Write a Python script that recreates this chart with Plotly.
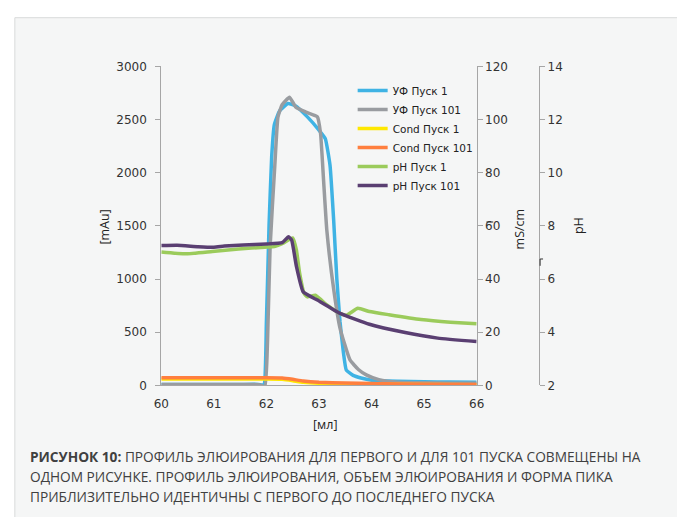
import plotly.graph_objects as go

W, H = 677, 517

# ---- data ----
uv1_x = [60, 60.5, 61, 61.5, 61.85, 61.95, 62.0, 62.05, 62.1, 62.15, 62.25, 62.41, 62.55, 62.78, 63.0, 63.12, 63.21, 63.28, 63.34, 63.4, 63.46, 63.52, 63.65, 63.8, 64.0, 64.5, 65, 65.5, 66]
uv1_y = [10, 10, 10, 10, 10, 5, 600, 1500, 2150, 2450, 2580, 2650, 2630, 2525, 2400, 2320, 2070, 1550, 1000, 600, 330, 145, 95, 70, 50, 40, 35, 32, 30]

uv101_x = [60, 60.5, 61, 61.5, 61.85, 61.97, 62.02, 62.07, 62.16, 62.22, 62.3, 62.44, 62.56, 62.75, 62.97, 63.03, 63.09, 63.15, 63.28, 63.4, 63.59, 63.75, 63.9, 64.14, 64.5, 65, 65.5, 66]
uv101_y = [10, 10, 10, 10, 8, -10, 400, 1300, 2070, 2525, 2640, 2710, 2615, 2570, 2525, 2370, 1910, 1455, 905, 540, 240, 150, 100, 55, 30, 25, 22, 20]

cond_x = [60, 61, 62, 62.3, 62.5, 62.7, 63.0, 63.5, 64, 65, 66]
cond1_y = [2.4, 2.4, 2.4, 2.3, 1.8, 1.2, 0.8, 0.6, 0.5, 0.35, 0.3]
cond101_y = [2.9, 2.9, 2.9, 2.8, 2.3, 1.7, 1.2, 0.9, 0.7, 0.5, 0.4]

ph1_x = [60.0, 60.46, 60.97, 61.47, 61.97, 62.15, 62.32, 62.5, 62.57, 62.63, 62.72, 62.78, 62.93, 63.15, 63.39, 63.52, 63.74, 63.96, 64.33, 64.94, 65.5, 66]
ph1_y = [7.02, 6.95, 7.04, 7.13, 7.2, 7.22, 7.35, 7.55, 7.1, 6.25, 5.45, 5.33, 5.39, 5.03, 4.72, 4.64, 4.9, 4.78, 4.66, 4.48, 4.38, 4.32]

ph101_x = [60.0, 60.3, 60.7, 61.0, 61.2, 61.56, 62.0, 62.3, 62.42, 62.48, 62.57, 62.7, 62.97, 63.39, 63.96, 64.64, 65.26, 66]
ph101_y = [7.26, 7.27, 7.22, 7.2, 7.24, 7.28, 7.32, 7.37, 7.59, 7.47, 6.49, 5.52, 5.21, 4.72, 4.3, 3.99, 3.78, 3.65]

x_ticks = [60, 61, 62, 63, 64, 65, 66]

names = ["УФ Пуск 1", "УФ Пуск 101", "Cond Пуск 1", "Cond Пуск 101", "pH Пуск 1", "pH Пуск 101"]
colors = ["#3FB3E4", "#999CA0", "#FFE800", "#FF7F3F", "#9BCB5B", "#5A3F72"]

caption_lines = [
    "<b>РИСУНОК 10:</b> ПРОФИЛЬ ЭЛЮИРОВАНИЯ ДЛЯ ПЕРВОГО И ДЛЯ 101 ПУСКА СОВМЕЩЕНЫ НА",
    "ОДНОМ РИСУНКЕ. ПРОФИЛЬ ЭЛЮИРОВАНИЯ, ОБЪЕМ ЭЛЮИРОВАНИЯ И ФОРМА ПИКА",
    "ПРИБЛИЗИТЕЛЬНО ИДЕНТИЧНЫ С ПЕРВОГО ДО ПОСЛЕДНЕГО ПУСКА",
]

# ---- helpers: page pixel -> paper fraction ----
def px(x):
    return x / W

def py(y):
    return 1 - y / H

fig = go.Figure()
series = [
    (uv1_x, uv1_y, "y"),
    (uv101_x, uv101_y, "y"),
    (cond_x, cond1_y, "y2"),
    (cond_x, cond101_y, "y2"),
    (ph1_x, ph1_y, "y3"),
    (ph101_x, ph101_y, "y3"),
]
for (xs, ys, ax), name, col in zip(series, names, colors):
    fig.add_trace(go.Scatter(x=xs, y=ys, yaxis=ax, name=name, mode="lines",
                             line=dict(color=col, width=3.5, shape="spline", smoothing=0.4)))

axis_col = "#A6A6A6"
tick_font = dict(family="DejaVu Sans", size=12, color="#333333")

x0, x1 = px(157), px(480)
ybot, ytop = py(389), py(61)

fig.update_layout(
    width=W, height=H,
    margin=dict(l=0, r=0, t=0, b=0),
    paper_bgcolor="white",
    plot_bgcolor="rgba(0,0,0,0)",
    showlegend=True,
    legend=dict(x=px(353), y=py(71), xanchor="left", yanchor="top",
                bgcolor="rgba(0,0,0,0)", font=dict(family="DejaVu Sans", size=10.5, color="#222222"),
                itemwidth=30, tracegroupgap=0),
    xaxis=dict(domain=[x0, x1], range=[60, 66], tickvals=x_ticks, showgrid=False, zeroline=False,
               showline=True, linecolor=axis_col, linewidth=1, ticks="", tickfont=tick_font,
               ticklabelstandoff=7),
    yaxis=dict(domain=[ybot, ytop], range=[0, 3000], dtick=500, showgrid=False, zeroline=False,
               showline=True, linecolor=axis_col, linewidth=1, ticks="outside", ticklen=5,
               tickcolor=axis_col, tickfont=tick_font, anchor="x", ticklabelstandoff=6),
    yaxis2=dict(range=[0, 120], dtick=20, overlaying="y", side="right", anchor="x",
                showgrid=False, zeroline=False, showline=True, linecolor=axis_col, linewidth=1,
                ticks="outside", ticklen=5, tickcolor=axis_col, tickfont=tick_font),
    yaxis3=dict(range=[2, 14], dtick=2, overlaying="y", side="right", anchor="free",
                position=px(544), showgrid=False, zeroline=False, showline=True,
                linecolor=axis_col, linewidth=1, ticks="outside", ticklen=5,
                tickcolor=axis_col, tickfont=tick_font),
)

# background panel with left/top border
fig.add_shape(type="rect", xref="paper", yref="paper", x0=px(7), x1=1.02, y0=-0.02, y1=py(11),
              fillcolor="#F5F6F6", line=dict(color="#D8DADA", width=1), layer="below")

# small stray marks present in the original artwork
for (ax0, ay0, ax1, ay1) in [(490, 221, 497, 221), (545, 259, 545, 266), (545, 259, 548, 259)]:
    fig.add_shape(type="line", xref="paper", yref="paper", x0=px(ax0), y0=py(ay0), x1=px(ax1), y1=py(ay1),
                  line=dict(color="#333333", width=1))

title_font = dict(family="Open Sans", size=12.5, color="#222222")
for tx, ty, txt, ang in [(99, 226, "[mAu]", -90), (524, 228, "mS/cm", -90),
                         (585, 225, "pH", -90), (325, 429, "[мл]", 0)]:
    fig.add_annotation(x=px(tx), y=py(ty), xref="paper", yref="paper", text=txt, textangle=ang,
                       xanchor="center", yanchor="middle", showarrow=False, font=title_font)

for i, line in enumerate(caption_lines):
    fig.add_annotation(x=px(20), y=py(462 + 20.5 * i), xref="paper", yref="paper",
                       xanchor="left", yanchor="middle", align="left", text=line, showarrow=False,
                       font=dict(family="Open Sans", size=13.7, color="#404040"))

fig.write_html("out.html", config={"displayModeBar": False},
               post_script="document.body.style.margin='0';document.body.style.overflow='hidden';")
